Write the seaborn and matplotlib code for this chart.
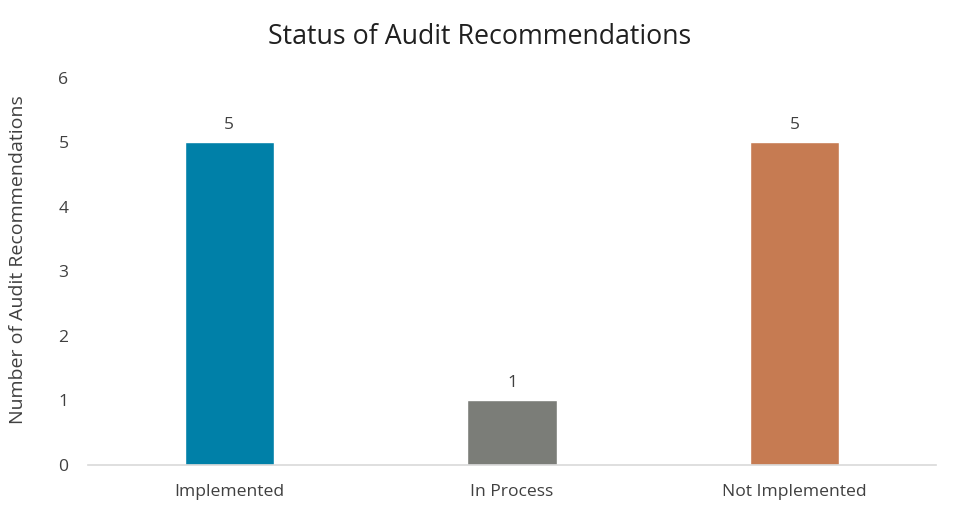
import matplotlib.pyplot as plt
import pandas as pd
import seaborn as sns

# Data
statuses = ['Implemented', 'In Process', 'Not Implemented']
counts = [5, 1, 5]
bar_colors = ['#0080A8', '#7B7D78', '#C67B52']

df = pd.DataFrame({'status': statuses, 'count': counts})

sns.set_theme(style='white')
plt.rcParams['font.family'] = ['Open Sans', 'DejaVu Sans']

fig = plt.figure(figsize=(9.6, 5.17), dpi=100)
ax = fig.add_axes([0.0917, 0.1006, 0.8833, 0.7486])

sns.barplot(data=df, x='status', y='count', hue='status', palette=bar_colors,
            width=0.315, legend=False, ax=ax, saturation=1)

for i, v in enumerate(counts):
    ax.text(i, v + 0.15, str(v), ha='center', va='bottom', fontsize=12.5, color='#404040')

ax.set_xlim(-0.5, 2.5)
ax.set_ylim(0, 6)
ax.set_yticks(range(0, 7))
ax.set_xlabel('')
ax.set_ylabel('Number of Audit Recommendations', fontsize=14, color='#404040')
ax.yaxis.set_label_coords(-0.072, 0.53)
ax.tick_params(axis='x', labelsize=12.6, colors='#404040', length=0, pad=14)
ax.tick_params(axis='y', labelsize=12.6, colors='#404040', length=0, pad=14)
for side in ['left', 'right', 'top']:
    ax.spines[side].set_visible(False)
ax.spines['bottom'].set_color('#D9D9D9')
ax.spines['bottom'].set_linewidth(1.2)

fig.text(0.5, 0.928, 'Status of Audit Recommendations', ha='center', va='center',
         fontsize=19.3, color='#202020')

fig.savefig('out.png', dpi=100)
